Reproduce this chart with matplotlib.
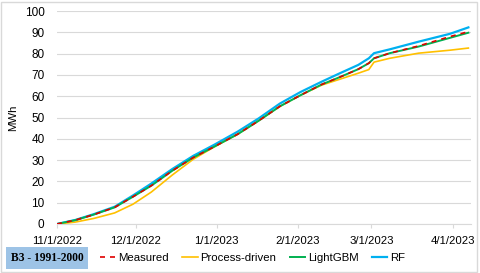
import numpy as np
import matplotlib
matplotlib.use("Agg")
import matplotlib.pyplot as plt
from matplotlib.patches import Rectangle
import datetime as dt

# sample dates
dates = ["2022-11-01", "2022-11-08", "2022-11-15", "2022-11-23", "2022-11-30",
         "2022-12-07", "2022-12-15", "2022-12-23", "2022-12-31", "2023-01-09",
         "2023-01-17", "2023-01-25", "2023-02-02", "2023-02-10", "2023-02-17",
         "2023-02-24", "2023-02-28", "2023-03-02", "2023-03-08", "2023-03-19",
         "2023-03-31", "2023-04-07"]

# cumulative energy, MWh
measured = [0, 1.8, 4.4, 7.8, 12.8, 18, 25, 31.2, 36.3, 42.2, 48.5, 55.2,
            60.5, 65.5, 69, 72.7, 75.5, 77.8, 80.2, 83.6, 88, 90.3]
process_driven = [0, 0.9, 2.6, 5.2, 9.3, 15, 23, 30.4, 36.2, 42.2, 48.5, 55.2,
                  60.5, 65.2, 68, 70.8, 72.5, 76, 77.8, 80.2, 81.6, 82.6]
lightgbm = [0, 1.8, 4.4, 7.8, 12.8, 18, 25, 31.2, 36.3, 42.2, 48.5, 55.2,
            60.5, 65.5, 69, 72.7, 75.5, 77.8, 80.2, 83.3, 87.4, 89.8]
rf = [0, 1.9, 4.6, 8.1, 13.4, 19, 25.8, 32, 37.2, 43.4, 49.6, 56.5, 62, 66.8,
      70.8, 74.7, 77.8, 80.2, 82, 85.6, 89.3, 92.3]

tick_dates = ["2022-11-01", "2022-12-01", "2023-01-01", "2023-02-01",
              "2023-03-01", "2023-04-01"]
tick_labels = ["11/1/2022", "12/1/2022", "1/1/2023", "2/1/2023", "3/1/2023",
               "4/1/2023"]
y_ticks = [0, 10, 20, 30, 40, 50, 60, 70, 80, 90, 100]

plt.rcParams['font.family'] = ['Liberation Sans', 'DejaVu Sans']

def to_dt(s):
	return dt.datetime.strptime(s, "%Y-%m-%d")

x = [to_dt(d) for d in dates]

fig = plt.figure(figsize=(4.8, 2.73), dpi=100)
ax = fig.add_axes([57 / 480, 1 - 224 / 273, (471 - 57) / 480, (224 - 11) / 273])

# series
ax.plot(x, rf, color='#00B0F0', lw=1.6, label='RF', zorder=2)
ax.plot(x, process_driven, color='#FFC000', lw=1.2, label='Process-driven', zorder=3)
ax.plot(x, lightgbm, color='#00B050', lw=1.4, label='LightGBM', zorder=4)
ax.plot(x, measured, color='#E00000', lw=1.2, ls=(0, (3, 3)), label='Measured', zorder=5)

# axes styling
ax.set_xlim(to_dt("2022-11-01"), to_dt("2023-04-08"))
ax.set_ylim(0, 100)
ax.set_yticks(y_ticks)
ax.set_xticks([to_dt(d) for d in tick_dates])
ax.set_xticklabels(tick_labels)
ax.grid(axis='y', color='#D9D9D9', lw=0.8)
ax.set_axisbelow(True)
for side in ['top', 'right', 'left']:
	ax.spines[side].set_visible(False)
ax.spines['bottom'].set_color('#D9D9D9')
ax.tick_params(axis='y', length=0, pad=9, labelsize=8.5, colors='black')
ax.tick_params(axis='x', length=3, color='#D9D9D9', pad=6, labelsize=8.2)
ax.set_ylabel('MWh', fontsize=8.2)
ax.yaxis.set_label_coords(-0.095, 0.5)

# legend in Excel order
handles, labels = ax.get_legend_handles_labels()
order = [3, 1, 2, 0]
fig.legend([handles[i] for i in order], [labels[i] for i in order],
	loc='center left', bbox_to_anchor=(100 / 480, 1 - 258 / 273), ncol=4,
	frameon=False, fontsize=8.2, handlelength=1.35, handletextpad=0.27,
	columnspacing=1.15, borderpad=0, borderaxespad=0)

# building label box
fig.text(47 / 480, 1 - 258 / 273, 'B3 - 1991-2000', ha='center', va='center',
	family='Liberation Serif', fontweight='bold', fontsize=8.3,
	bbox=dict(boxstyle='square,pad=0.4', fc='#9DC3E6', ec='none'))

# outer chart border
fig.patches.append(Rectangle((1 / 480, 1 / 273), 476 / 480, 270 / 273,
	transform=fig.transFigure, fill=False, ec='#D9D9D9', lw=1))

fig.savefig('out.png', dpi=100)
